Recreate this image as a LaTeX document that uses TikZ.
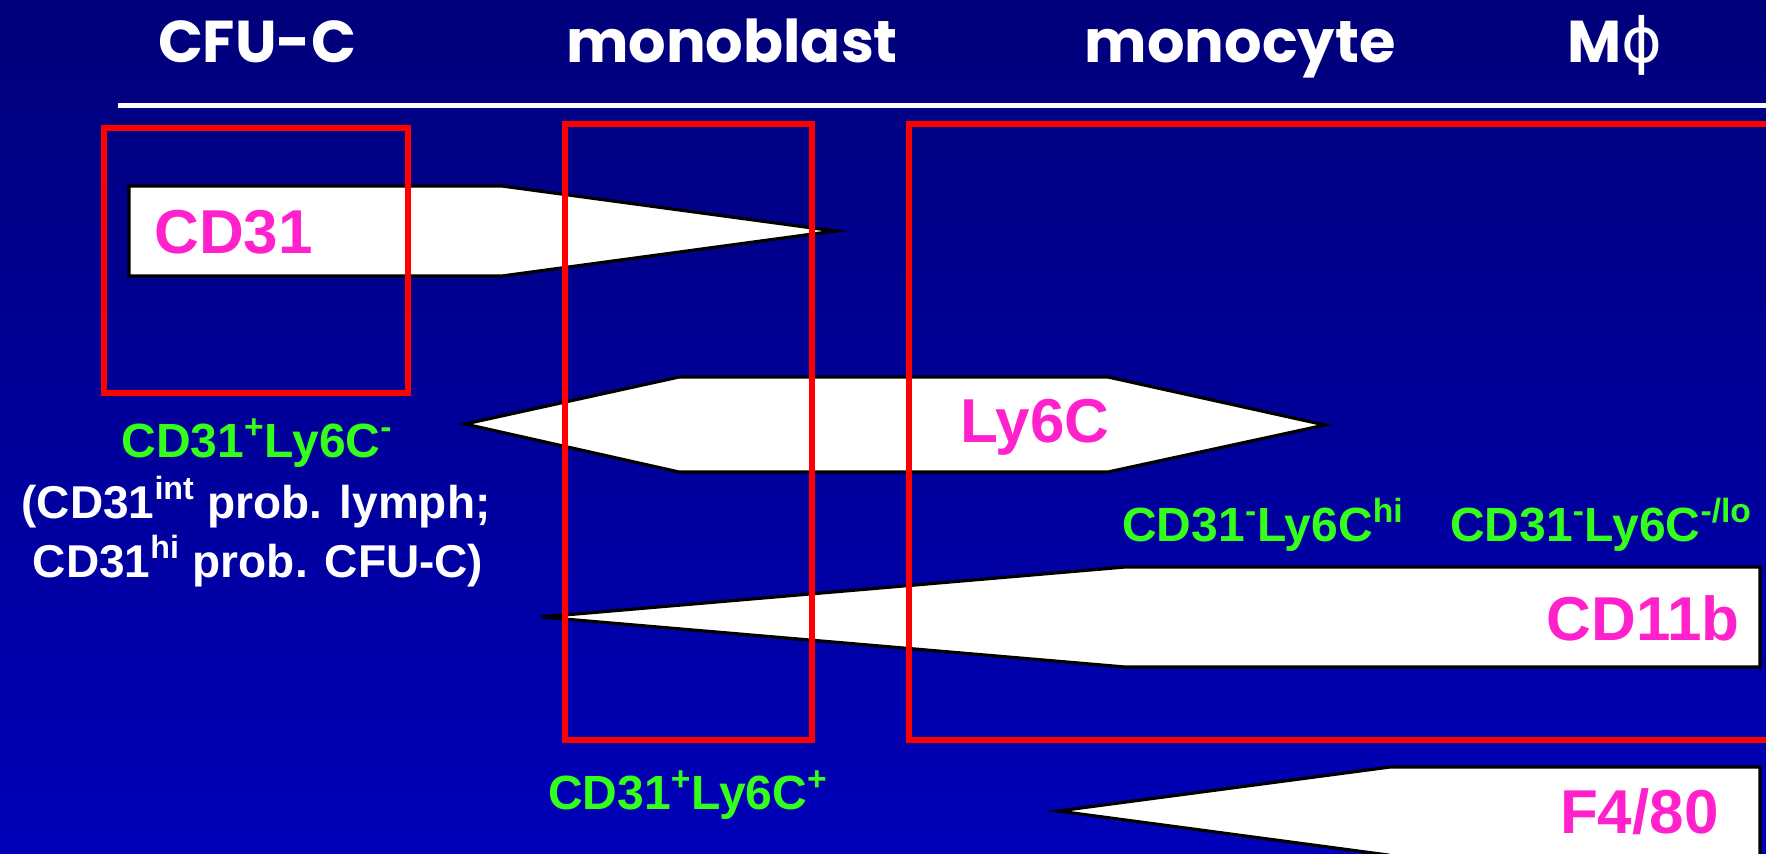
\documentclass[tikz,border=0pt]{standalone}
\usepackage{fontspec}
\setmainfont{Liberation Sans}
\newfontfamily\headfont{Poppins}
\newfontfamily\greekfont{DejaVu Sans}
\definecolor{bgtop}{HTML}{00007A}
\definecolor{bgbottom}{HTML}{0000B8}
\definecolor{boxred}{HTML}{FF0000}
\definecolor{markpink}{HTML}{FF22CC}
\definecolor{phenogreen}{HTML}{33FF1A}
\begin{document}
\begin{tikzpicture}[x=0.5pt,y=-0.5pt,
  arrowshape/.style={draw=black,fill=white,line width=1.6pt,line join=miter},
  gatebox/.style={draw=boxred,line width=2.6pt,line join=miter},
  marker/.style={text=markpink,font=\fontsize{31}{36}\selectfont\bfseries,inner sep=0pt},
  pheno/.style={text=phenogreen,font=\fontsize{24}{28}\selectfont\bfseries,inner sep=0pt},
  note/.style={text=white,font=\fontsize{23}{28}\selectfont\bfseries,inner sep=0pt},
  stage/.style={text=white,font=\headfont\fontsize{29.5}{36}\selectfont\bfseries,inner sep=0pt}]

% page and background
\useasboundingbox (0,0) rectangle (1766,853);
\shade[top color=bgtop,bottom color=bgbottom] (0,0) rectangle (1766,853);

\begin{scope}
\clip (0,0) rectangle (1766,853);

% stage headings and rule
\node[stage,anchor=base] (cfuc) at (257,62) {CFU-C};
\node[stage,anchor=base] (monoblast) at (732,62) {monoblast};
\node[stage,anchor=base] (monocyte) at (1240,62) {monocyte};
\node[stage,anchor=base] (mphi) at (1615,62) {M{\greekfont\mdseries\fontsize{31}{36}\selectfont ϕ}};
\coordinate (ruleL) at (118,105.5);
\coordinate (ruleR) at (1766,105.5);
\draw[white,line width=2.5pt] (ruleL) -- (ruleR);

% marker expression arrows
\draw[arrowshape] (129,186) -- (502,186) -- (835,231) -- (502,276) -- (129,276) -- cycle;
\draw[arrowshape] (465,424) -- (679,377) -- (1108,377) -- (1325,425) -- (1108,472) -- (679,472) -- cycle;
\draw[arrowshape] (541,617) -- (1125,567) -- (1760,567) -- (1760,667) -- (1125,667) -- cycle;
\draw[arrowshape] (1058,811) -- (1390,767) -- (1760,767) -- (1760,870) -- (1390,870) -- (1388,855) -- cycle;

% gating boxes
\draw[gatebox] (104,128) rectangle (408,393);
\draw[gatebox] (565,124) rectangle (812,740);
\draw[gatebox] (909,124) rectangle (1800,740);
\end{scope}

% marker names
\node[marker,anchor=base west] (cd31) at (154,253) {CD31};
\node[marker,anchor=base] (ly6c) at (1035,442) {Ly6C};
\node[marker,anchor=base east] (cd11b) at (1740,640) {CD11b};
\node[marker,anchor=base east] (f480) at (1719,833) {F4/80};

% phenotypes
\node[pheno,anchor=base] (ph1) at (257,457) {CD31\textsuperscript{+}Ly6C\textsuperscript{-}};
\node[note,anchor=base] (nt1) at (256,518) {(CD31\textsuperscript{int} prob. lymph;};
\node[note,anchor=base] (nt2) at (258,577) {CD31\textsuperscript{hi} prob. CFU-C)};
\node[pheno,anchor=base] (ph2) at (1263,541) {CD31\textsuperscript{-}Ly6C\textsuperscript{hi}};
\node[pheno,anchor=base] (ph3) at (1601,541) {CD31\textsuperscript{-}Ly6C\textsuperscript{-/lo}};
\node[pheno,anchor=base] (ph4) at (688,809) {CD31\textsuperscript{+}Ly6C\textsuperscript{+}};
\end{tikzpicture}
\end{document}
